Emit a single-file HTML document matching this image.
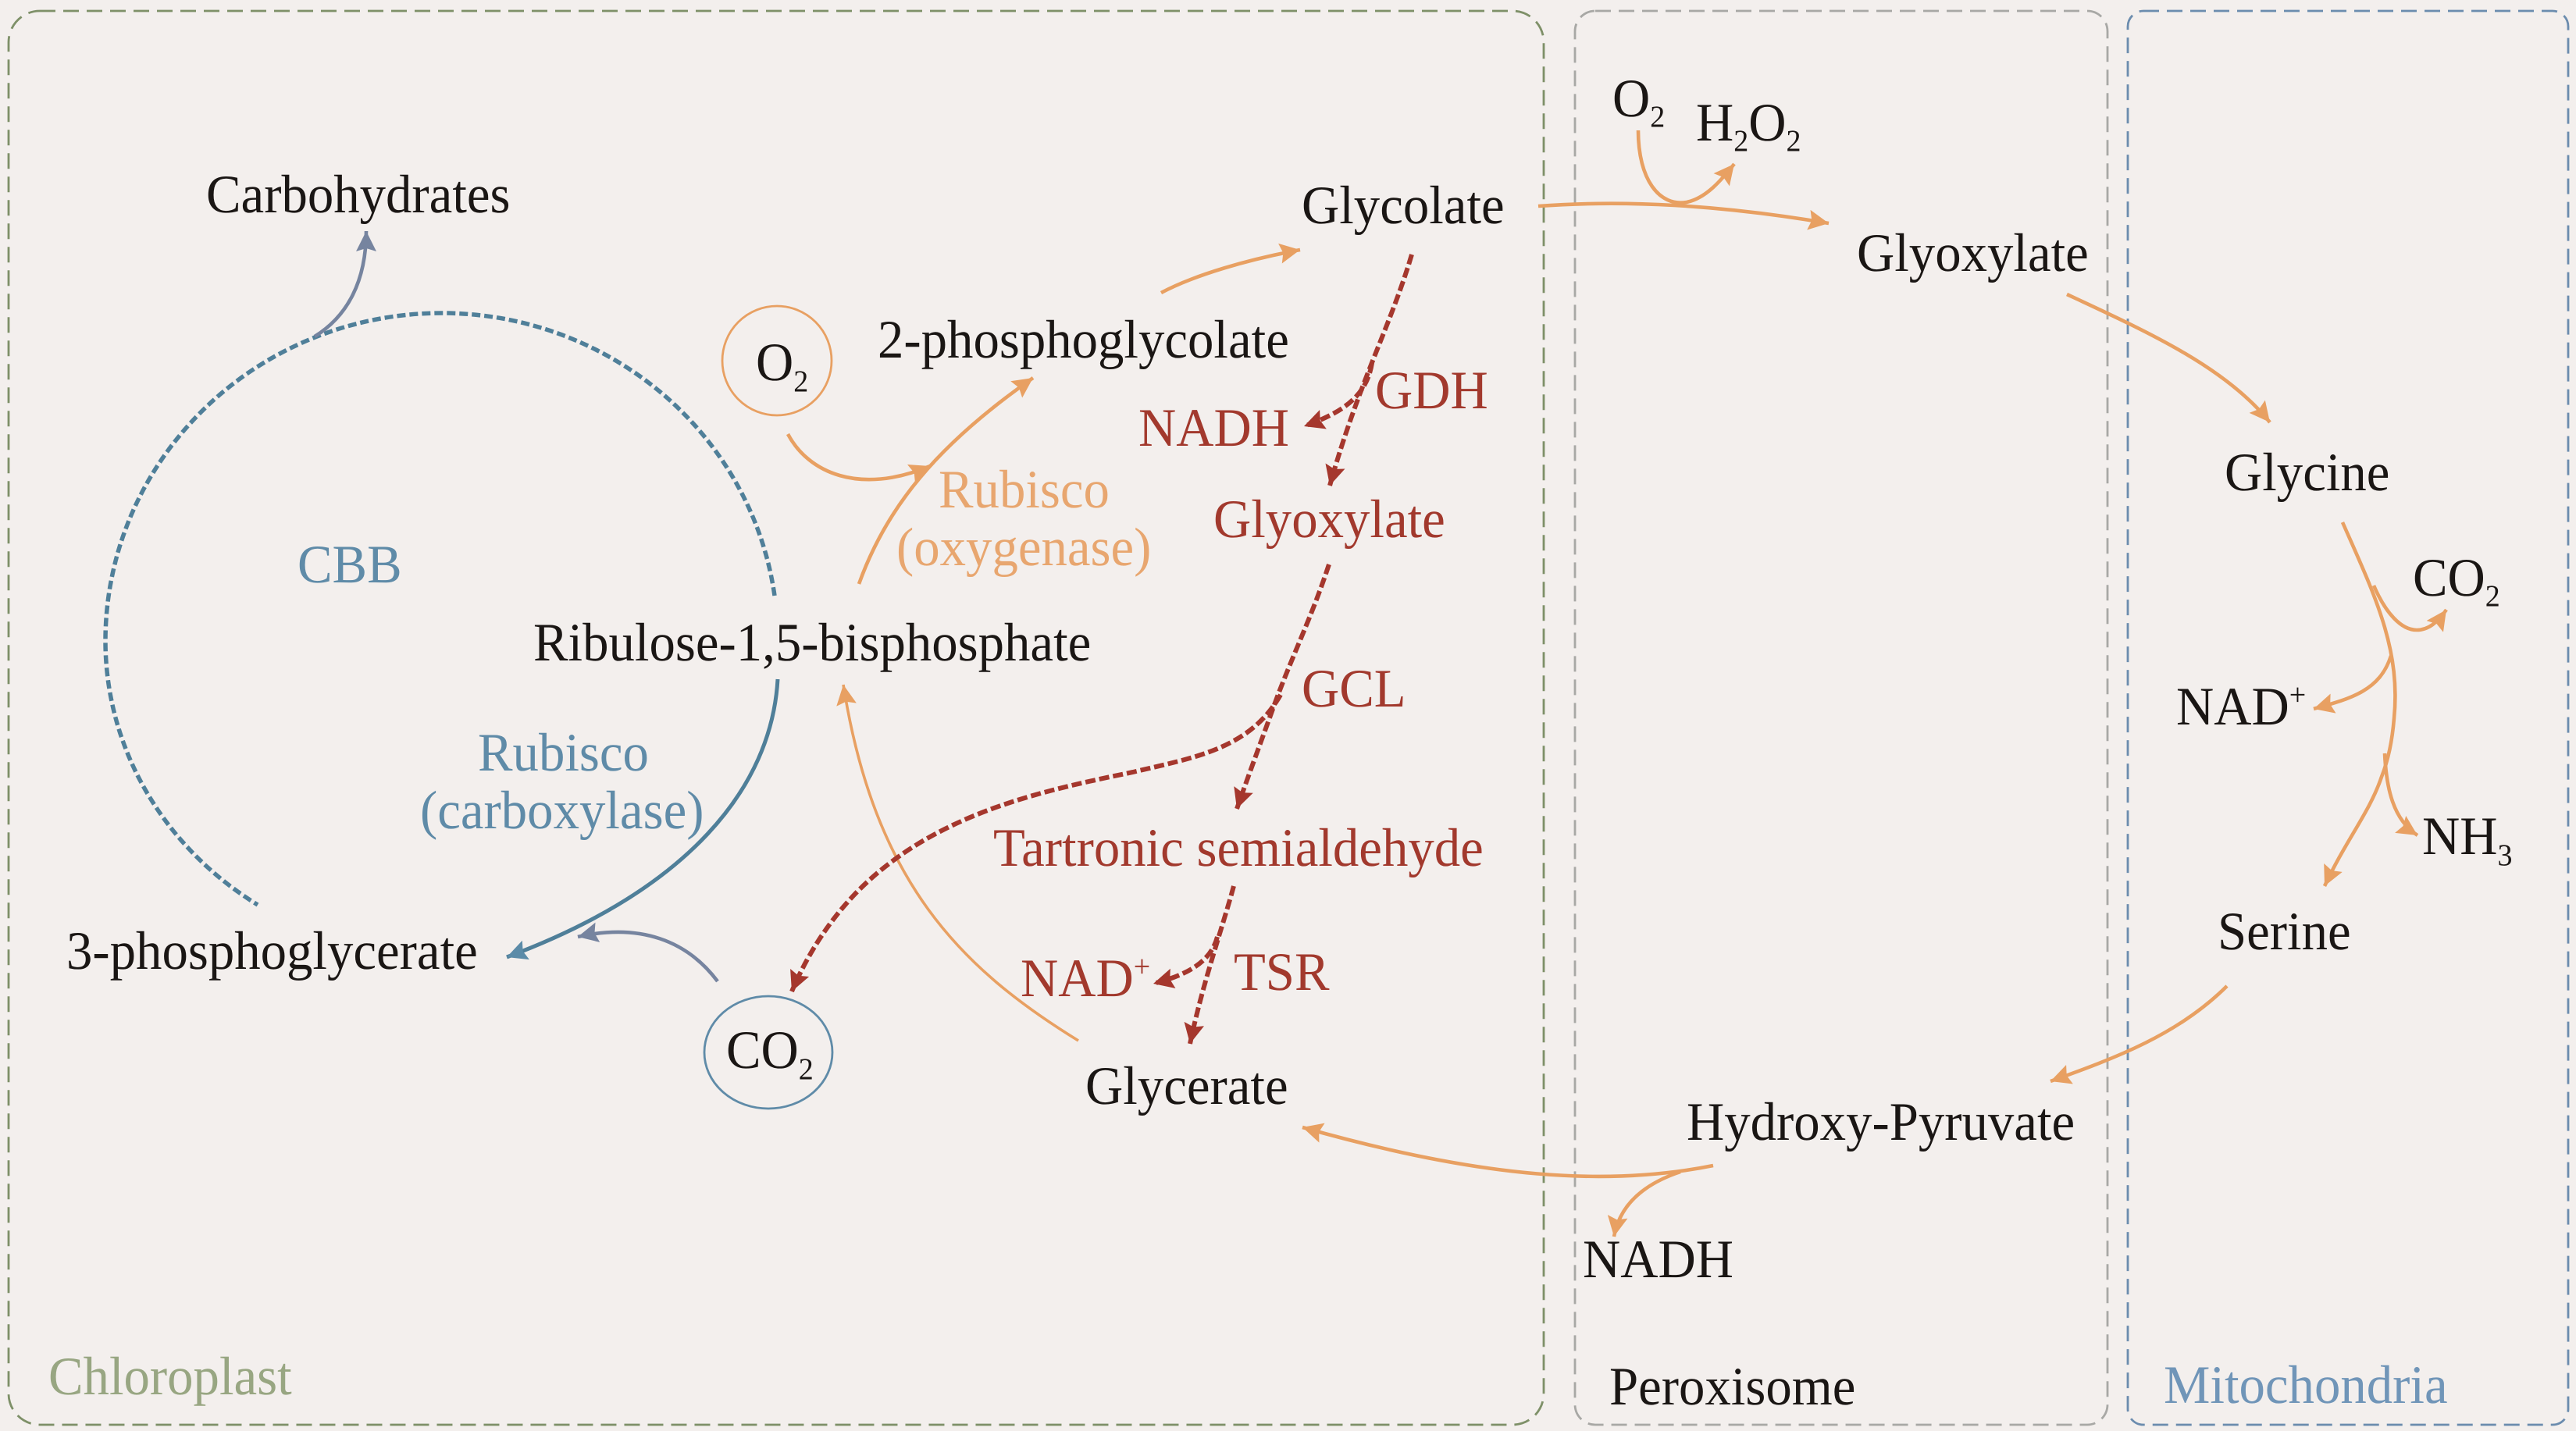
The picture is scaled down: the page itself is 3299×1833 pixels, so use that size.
<!DOCTYPE html>
<html><head><meta charset="utf-8"><style>
html,body{margin:0;padding:0;background:#f3efed}
svg{display:block}
text{font-family:"Liberation Serif",serif;font-size:66.8px;fill:#1a1614;text-rendering:geometricPrecision}
.r{fill:#a2392d}.o{fill:#e8a66f}.b{fill:#5f8ba8}
text .sub{font-size:38px}
.or{fill:none;stroke:#e8a062;stroke-width:4.6}
.rd{fill:none;stroke:#a5372d;stroke-width:6;stroke-dasharray:13 5}
.bl{fill:none;stroke:#4f7f99;stroke-width:5}
.sl{fill:none;stroke:#76849f;stroke-width:4.6}
</style></head><body>
<svg width="3299" height="1833" viewBox="0 0 3299 1833" xmlns="http://www.w3.org/2000/svg">
<defs>
<marker id="ao" markerUnits="userSpaceOnUse" markerWidth="30" markerHeight="30" refX="26" refY="13" orient="auto"><path d="M0,0 L26,13 L0,26 L4,13 Z" fill="#e8a062"/></marker>
<marker id="ar" markerUnits="userSpaceOnUse" markerWidth="30" markerHeight="30" refX="26" refY="13" orient="auto"><path d="M0,0 L26,13 L0,26 L4,13 Z" fill="#a5372d"/></marker>
<marker id="ab" markerUnits="userSpaceOnUse" markerWidth="30" markerHeight="30" refX="26" refY="13" orient="auto"><path d="M0,0 L26,13 L0,26 L4,13 Z" fill="#5b8ba8"/></marker>
<marker id="as" markerUnits="userSpaceOnUse" markerWidth="30" markerHeight="30" refX="26" refY="13" orient="auto"><path d="M0,0 L26,13 L0,26 L4,13 Z" fill="#76849f"/></marker>
</defs>
<rect width="3299" height="1833" fill="#f3efed"/>
<rect x="11" y="14" width="1966" height="1811" rx="40" fill="none" stroke="#7e9068" stroke-width="2.8" stroke-dasharray="20 10"/>
<rect x="2017" y="14" width="682" height="1811" rx="26" fill="none" stroke="#a8a8a5" stroke-width="2.8" stroke-dasharray="20 10"/>
<rect x="2725" y="14" width="564" height="1811" rx="20" fill="none" stroke="#6b8cae" stroke-width="2.8" stroke-dasharray="20 10"/>

<path d="M992,763 A431,420 0 0 0 566,401 A431,420 0 0 0 135,821 A431,404 0 0 0 330,1159" fill="none" stroke="#4f7f99" stroke-width="5.5" stroke-dasharray="11 5"/>
<path class="bl" d="M996,870 C988,1010 880,1140 649,1226" marker-end="url(#ab)"/>
<path class="sl" d="M403,431 C445,405 469,360 469,296" marker-end="url(#as)"/>
<path class="sl" d="M919,1257 C880,1205 820,1182 740,1200" marker-end="url(#as)"/>

<circle cx="995" cy="462" r="70" fill="none" stroke="#e8a062" stroke-width="2.8"/>
<ellipse cx="984" cy="1348" rx="82" ry="72" fill="none" stroke="#5f8ba8" stroke-width="2.8"/>

<path class="or" d="M1009,556 C1035,605 1100,635 1191,597" marker-end="url(#ao)"/>
<path class="or" d="M1100,748 C1135,650 1200,570 1323,484" marker-end="url(#ao)"/>
<path class="or" d="M1487,375 C1530,352 1600,332 1665,320" marker-end="url(#ao)"/>
<path class="or" style="stroke-width:3.6" d="M1381,1333 C1230,1240 1120,1130 1080,877" marker-end="url(#ao)"/>
<path class="or" d="M1970,264 C2080,256 2200,262 2342,286" marker-end="url(#ao)"/>
<path class="or" d="M2098,167 C2098,230 2125,265 2160,259 C2185,254 2205,230 2221,210" marker-end="url(#ao)"/>
<path class="or" d="M2647,377 C2750,425 2850,470 2907,541" marker-end="url(#ao)"/>
<path class="or" d="M3000,669 C3040,760 3075,830 3066,920 C3064,945 3060,970 3050,995 C3035,1040 3005,1075 2977,1135" marker-end="url(#ao)"/>
<path class="or" d="M3040,750 C3055,785 3075,807 3095,807 C3110,807 3122,797 3133,781" marker-end="url(#ao)"/>
<path class="or" d="M3062,840 C3048,885 3010,895 2963,908" marker-end="url(#ao)"/>
<path class="or" d="M3054,965 C3056,1010 3065,1050 3096,1070" marker-end="url(#ao)"/>
<path class="or" d="M2852,1263 C2790,1325 2710,1355 2626,1385" marker-end="url(#ao)"/>
<path class="or" d="M2194,1493 C2060,1520 1900,1510 1668,1444" marker-end="url(#ao)"/>
<path class="or" d="M2152,1501 C2110,1515 2075,1540 2067,1584" marker-end="url(#ao)"/>

<path class="rd" d="M1808,326 C1780,420 1740,490 1703,622" marker-end="url(#ar)"/>
<path class="rd" d="M1757,465 C1750,510 1715,530 1670,546" marker-end="url(#ar)"/>
<path class="rd" d="M1702,723 C1680,790 1655,840 1633,900 C1615,950 1600,990 1584,1036" marker-end="url(#ar)"/>
<path class="rd" d="M1640,890 C1600,960 1530,970 1451,989 C1340,1012 1200,1040 1100,1140 C1065,1175 1035,1220 1014,1270" marker-end="url(#ar)"/>
<path class="rd" d="M1580,1135 C1565,1190 1540,1260 1524,1337" marker-end="url(#ar)"/>
<path class="rd" d="M1559,1200 C1550,1235 1515,1250 1477,1260" marker-end="url(#ar)"/>

<text transform="translate(264,272) scale(1,1.04)">Carbohydrates</text>
<text class="b" transform="translate(381,746) scale(1,1.04)">CBB</text>
<text transform="translate(683,846) scale(1,1.04)">Ribulose-1,5-bisphosphate</text>
<text transform="translate(968,487) scale(1,1.04)">O<tspan class="sub" dy="14">2</tspan></text>
<text transform="translate(1124,458) scale(1,1.04)">2-phosphoglycolate</text>
<text transform="translate(1667,286) scale(1,1.04)">Glycolate</text>
<text class="r" transform="translate(1761,523) scale(1,1.04)">GDH</text>
<text class="r" transform="translate(1458,571) scale(1,1.04)">NADH</text>
<text class="o" transform="translate(1202,650) scale(1,1.04)">Rubisco</text>
<text class="o" transform="translate(1148,724) scale(1,1.04)">(oxygenase)</text>
<text class="r" transform="translate(1554,688) scale(1,1.04)">Glyoxylate</text>
<text class="r" transform="translate(1667,905) scale(1,1.04)">GCL</text>
<text class="b" transform="translate(612,987) scale(1,1.04)">Rubisco</text>
<text class="b" transform="translate(538,1061) scale(1,1.04)">(carboxylase)</text>
<text transform="translate(85,1241) scale(1,1.04)">3-phosphoglycerate</text>
<text transform="translate(930,1368) scale(1,1.04)">CO<tspan class="sub" dy="14">2</tspan></text>
<text transform="translate(62,1786) scale(1,1.04)" style="fill:#98a682">Chloroplast</text>
<text class="r" transform="translate(1272,1109) scale(1,1.04)">Tartronic semialdehyde</text>
<text class="r" transform="translate(1307,1276) scale(1,1.04)">NAD<tspan class="sub r" dy="-24">+</tspan></text>
<text class="r" transform="translate(1580,1268) scale(1,1.04)">TSR</text>
<text transform="translate(1390,1414) scale(1,1.04)">Glycerate</text>
<text transform="translate(2027,1636) scale(1,1.04)">NADH</text>
<text transform="translate(2061,1799) scale(1,1.04)">Peroxisome</text>
<text transform="translate(2160,1460) scale(1,1.04)">Hydroxy-Pyruvate</text>
<text transform="translate(2065,149) scale(1,1.04)">O<tspan class="sub" dy="13">2</tspan></text>
<text transform="translate(2172,180) scale(1,1.04)">H<tspan class="sub" dy="13">2</tspan><tspan dy="-13">O</tspan><tspan class="sub" dy="13">2</tspan></text>
<text transform="translate(2378,347) scale(1,1.04)">Glyoxylate</text>
<text transform="translate(2849,628) scale(1,1.04)">Glycine</text>
<text transform="translate(3090,763) scale(1,1.04)">CO<tspan class="sub" dy="13">2</tspan></text>
<text transform="translate(2787,928) scale(1,1.04)">NAD<tspan class="sub" dy="-24">+</tspan></text>
<text transform="translate(3102,1094) scale(1,1.04)">NH<tspan class="sub" dy="14">3</tspan></text>
<text transform="translate(2840,1216) scale(1,1.04)">Serine</text>
<text transform="translate(2771,1797) scale(1,1.04)" style="fill:#7095b8">Mitochondria</text>
</svg>
</body></html>
